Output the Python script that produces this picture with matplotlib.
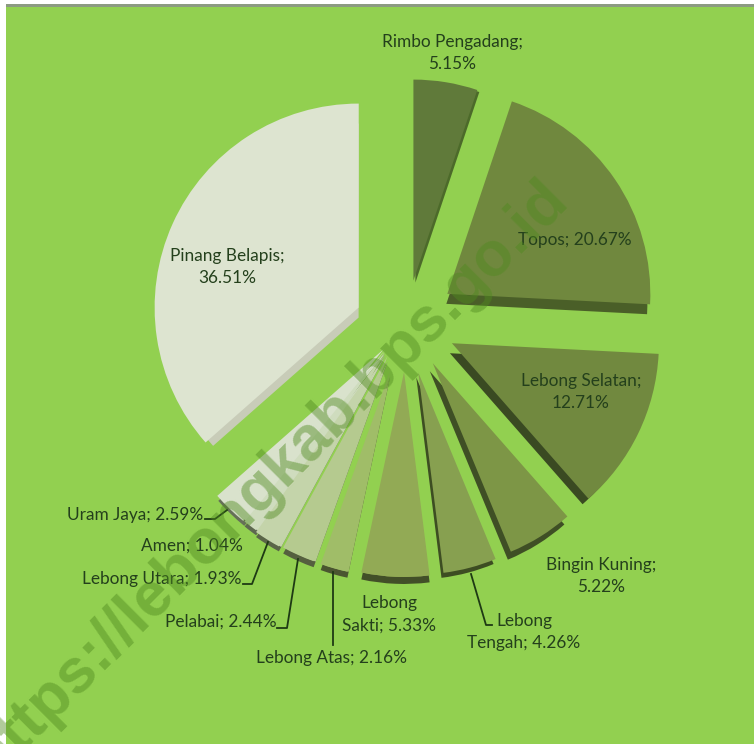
import matplotlib
matplotlib.use("Agg")
import matplotlib.pyplot as plt
from matplotlib.patches import Rectangle

plt.rcParams['font.family'] = ['Lato', 'DejaVu Sans']

# clockwise from 12 o'clock
names = ['Rimbo Pengadang', 'Topos', 'Lebong Selatan', 'Bingin Kuning', 'Lebong Tengah', 'Lebong Sakti',
         'Lebong Atas', 'Pelabai', 'Lebong Utara', 'Amen', 'Uram Jaya', 'Pinang Belapis']
values = [5.15, 20.67, 12.71, 5.22, 4.26, 5.33, 2.16, 2.44, 1.93, 1.04, 2.59, 36.51]
labels = ['Rimbo Pengadang;\n5.15%', 'Topos; 20.67%', 'Lebong Selatan;\n12.71%', 'Bingin Kuning;\n5.22%',
          'Lebong\nTengah; 4.26%', 'Lebong\nSakti; 5.33%', 'Lebong Atas; 2.16%', 'Pelabai; 2.44%',
          'Lebong Utara; 1.93%', 'Amen; 1.04%', 'Uram Jaya; 2.59%', 'Pinang Belapis;\n36.51%']

# styling per wedge
top_colors = ['#607a3a', '#70883e', '#71893f', '#7d9646', '#87a050', '#92aa55',
              '#a0bd68', '#b5ca8f', '#c4d4aa', '#cfdcbe', '#d9e2cc', '#dde4d0']
rim_colors = ['#4c6a2a', '#4a5f28', '#3a4a22', '#3f4f25', '#3d4d22', '#424f28',
              '#4a5530', '#555f3f', '#5a6548', '#5e6850', '#667058', '#c8ccb8']
radii = [201, 203, 207, 204, 202, 205, 205, 218, 222, 222, 222, 204]
explode_px = [46, 50, 51, 45, 48, 46, 47, 33, 30, 31, 32, 52]
nudge = [(0, 0), (0, -4), (0, -5), (3, -1), (0, 0), (0, 0), (-3, 0), (-5, 0), (-5, 0), (-2, -1), (0, 0), (0, 3)]
rim_shift = [(2, 2), (-1, 10), (-2, 10), (-3, 8), (-2, 5), (0, 7), (0, 6), (0, 6), (0, 5), (0, 5), (1, 5), (0, 10)]
rim_trim = [0, 2, 6, 0, 0, 0, 0, 0, 0, 0, 0, 10]
# these show the rim on the arc only, not along the straight edges
arc_rim_only = [False, False, False, False, False, True, True, True, True, True, True, False]

# label placement, pixel coordinates from the top left
label_pos = [(452, 53, 'center'), (575, 240, 'center'), (581, 392, 'center'), (601, 576, 'center'),
             (524, 632, 'center'), (389, 614, 'center'), (331, 658, 'center'), (277, 622, 'right'),
             (241, 579, 'right'), (243, 546, 'right'), (203, 515, 'right'), (227, 267, 'center')]
leaders = [[(205, 519), (215, 519), (227, 510)],
           [(243, 584), (252, 584), (268, 542)],
           [(277, 628), (287, 628), (298, 559)],
           [(333, 572), (333, 645)],
           [(471, 574), (486, 625), (492, 625)]]

H = 744
cx, cy = 406, H - 326

fig = plt.figure(figsize=(7.54, 7.44), dpi=100, facecolor='white')
ax = fig.add_axes([0, 0, 1, 1])

ax.add_patch(Rectangle((6, 0), 748, H - 6, facecolor='#92d050', edgecolor='none', zorder=0))
ax.add_patch(Rectangle((6, H - 7), 748, 3, facecolor='#8c9a82', edgecolor='none', zorder=0))


def draw_wedge(value, start, color, radius, offset, center, z):
    # explode is in data units here, so the offset stays in pixels
    wedges, _ = ax.pie([value / 100], explode=[offset], colors=[color], radius=radius,
                       center=center, startangle=start, counterclock=False, normalize=False)
    wedges[0].set_zorder(z)


start = 90
for i, v in enumerate(values):
    nx, ny = nudge[i]
    dx, dy = rim_shift[i]
    rim_center = (cx + nx + dx, cy - ny - dy)
    draw_wedge(v, start, rim_colors[i], radii[i] - rim_trim[i], explode_px[i], rim_center, 1)
    if arc_rim_only[i]:
        draw_wedge(v, start, top_colors[i], radii[i] - dy, explode_px[i], rim_center, 1.5)
    draw_wedge(v, start, top_colors[i], radii[i], explode_px[i], (cx + nx, cy - ny), 2)
    start -= 3.6 * v

ax.set_aspect('auto')
ax.set_xlim(0, 754)
ax.set_ylim(0, H)
ax.axis('off')

for pts in leaders:
    ax.plot([p[0] for p in pts], [H - p[1] for p in pts], color='#1e3a14', lw=1.3, zorder=3)

for text, (x, y, ha) in zip(labels, label_pos):
    ax.text(x, H - y, text, ha=ha, va='center', multialignment='center', fontsize=12.4,
            color='#24401c', linespacing=1.5, zorder=4)

ax.text(270, H - 478, 'https://lebongkab.bps.go.id', rotation=45, rotation_mode='anchor', ha='center',
        va='center', fontsize=45, fontweight='bold', family='Liberation Sans', color='#4f8a1f', alpha=0.45, zorder=5)

fig.savefig('out.png', dpi=100)
